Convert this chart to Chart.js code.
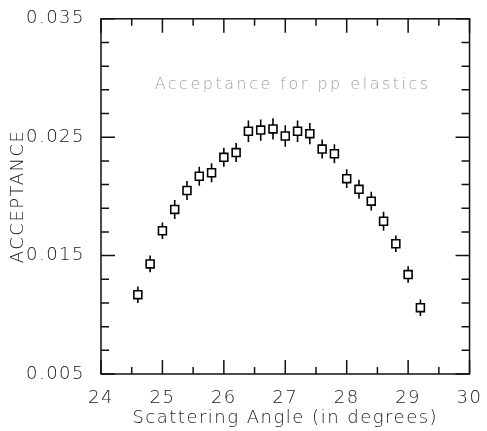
<!DOCTYPE html>
<html>
<head>
<meta charset="utf-8">
<script src="https://cdn.jsdelivr.net/npm/chart.js@4/dist/chart.umd.min.js"></script>
<style>
  html, body { margin: 0; padding: 0; background: #fff; }
</style>
</head>
<body>
<canvas id="acceptanceChart" width="487" height="431"></canvas>
<script>
// scattering angle (deg), acceptance and its error
const angles = [24.6, 24.8, 25.0, 25.2, 25.4, 25.6, 25.8, 26.0, 26.2, 26.4, 26.6, 26.8,
                27.0, 27.2, 27.4, 27.6, 27.8, 28.0, 28.2, 28.4, 28.6, 28.8, 29.0, 29.2];
const acceptance = [0.0117, 0.0143, 0.0171, 0.0189, 0.0205, 0.0217, 0.0220, 0.0233, 0.0237, 0.0255, 0.0256, 0.0257,
                    0.0251, 0.0255, 0.0253, 0.0240, 0.0236, 0.0215, 0.0206, 0.0196, 0.0179, 0.0160, 0.0134, 0.0106];
const errors = [0.0007, 0.0007, 0.0007, 0.0008, 0.0008, 0.0008, 0.0008, 0.0008, 0.0008, 0.0009, 0.0009, 0.0009,
                0.0009, 0.0009, 0.0009, 0.0008, 0.0008, 0.0008, 0.0008, 0.0008, 0.0008, 0.0007, 0.0007, 0.0007];
const xTicks = [24, 25, 26, 27, 28, 29, 30];
const yTicks = [0.005, 0.015, 0.025, 0.035];
const plotLabel = 'Acceptance for pp elastics';

const FONT = "'DejaVu Sans', sans-serif";

// wide letter spacing for every piece of text on the canvas
const spacing = {
  id: 'spacing',
  beforeDraw(chart) { chart.ctx.letterSpacing = '1.5px'; },
  afterDraw(chart) { chart.ctx.letterSpacing = '0px'; }
};

// vertical error bars, drawn under the square markers
const errorBars = {
  id: 'errorBars',
  beforeDatasetsDraw(chart) {
    const { ctx, scales: { x, y } } = chart;
    ctx.save();
    ctx.strokeStyle = '#000';
    ctx.lineWidth = 1.6;
    ctx.beginPath();
    angles.forEach((a, i) => {
      const px = x.getPixelForValue(a);
      ctx.moveTo(px, y.getPixelForValue(acceptance[i] - errors[i]));
      ctx.lineTo(px, y.getPixelForValue(acceptance[i] + errors[i]));
    });
    ctx.stroke();
    ctx.restore();
  }
};

// box frame with inward major/minor ticks on all four sides, plus the plot label
const frame = {
  id: 'frame',
  afterDatasetsDraw(chart) {
    const { ctx, chartArea: a, scales: { x, y } } = chart;
    ctx.save();
    ctx.strokeStyle = '#111';
    ctx.lineWidth = 1.5;
    ctx.strokeRect(a.left, a.top, a.right - a.left, a.bottom - a.top);
    ctx.beginPath();
    for (let k = 0; k <= 12; k++) {
      const px = x.getPixelForValue(24 + k * 0.5);
      const len = k % 2 === 0 ? 14 : 7;
      ctx.moveTo(px, a.bottom); ctx.lineTo(px, a.bottom - len);
      ctx.moveTo(px, a.top); ctx.lineTo(px, a.top + len);
    }
    for (let k = 0; k <= 15; k++) {
      const py = y.getPixelForValue(0.005 + k * 0.002);
      const len = k % 5 === 0 ? 14 : 8;
      ctx.moveTo(a.left, py); ctx.lineTo(a.left + len, py);
      ctx.moveTo(a.right, py); ctx.lineTo(a.right - len, py);
    }
    ctx.stroke();

    ctx.fillStyle = '#a0a0a0';
    ctx.font = '200 16px ' + FONT;
    ctx.letterSpacing = '2.5px';
    ctx.textAlign = 'center';
    ctx.textBaseline = 'middle';
    ctx.fillText(plotLabel, x.getPixelForValue(27.12), y.getPixelForValue(0.0294));
    ctx.restore();
  }
};

new Chart(document.getElementById('acceptanceChart'), {
  type: 'scatter',
  data: {
    datasets: [{
      data: angles.map((a, i) => ({ x: a, y: acceptance[i] })),
      pointStyle: 'rect',
      pointRadius: 5.6,
      backgroundColor: '#fff',
      borderColor: '#000',
      borderWidth: 1.6
    }]
  },
  options: {
    responsive: false,
    animation: false,
    layout: { padding: { top: 18, right: 15, left: 0, bottom: 0 } },
    plugins: { legend: { display: false }, tooltip: { enabled: false } },
    scales: {
      x: {
        type: 'linear',
        min: 24,
        max: 30,
        afterBuildTicks: s => { s.ticks = xTicks.map(v => ({ value: v })); },
        afterFit: s => { s.height = 57; },
        grid: { display: false },
        border: { display: false },
        ticks: {
          padding: 6,
          color: '#1a1a1a',
          font: { family: FONT, size: 18, weight: '200' },
          callback: v => String(v)
        },
        title: {
          display: true,
          text: 'Scattering Angle (in degrees)',
          color: '#1a1a1a',
          padding: { top: 0, bottom: 2 },
          font: { family: FONT, size: 18, weight: '200' }
        }
      },
      y: {
        min: 0.005,
        max: 0.035,
        afterBuildTicks: s => { s.ticks = yTicks.map(v => ({ value: v })); },
        afterFit: s => { s.width = 101; },
        grid: { display: false },
        border: { display: false },
        ticks: {
          padding: 8,
          color: '#1a1a1a',
          font: { family: FONT, size: 18, weight: '200' },
          callback: v => v.toFixed(3)
        },
        title: {
          display: true,
          text: 'ACCEPTANCE',
          color: '#1a1a1a',
          padding: { top: 8, bottom: 0 },
          font: { family: FONT, size: 18, weight: '200' }
        }
      }
    }
  },
  plugins: [spacing, errorBars, frame]
});
</script>
</body>
</html>
